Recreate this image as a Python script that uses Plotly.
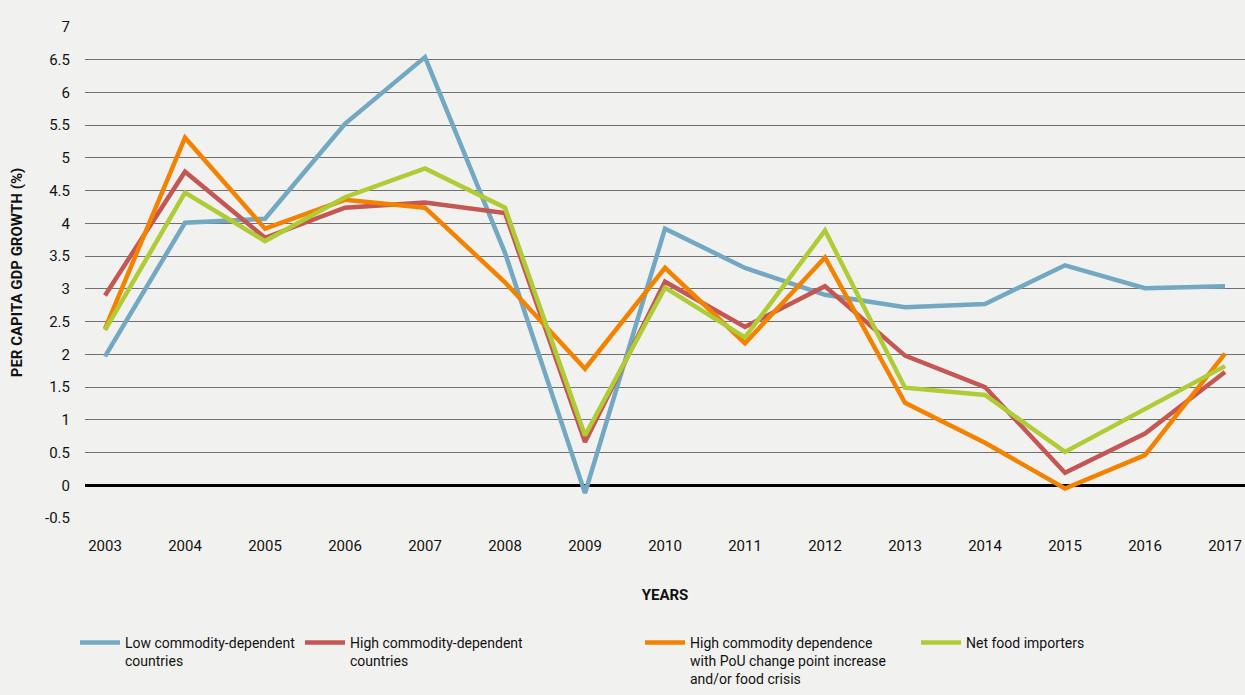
import plotly.graph_objects as go

# Per capita GDP growth (%) by country group, 2003-2017
years = [2003, 2004, 2005, 2006, 2007, 2008, 2009, 2010, 2011, 2012, 2013, 2014, 2015, 2016, 2017]

low_commodity = [1.97, 4.01, 4.07, 5.52, 6.54, 3.55, -0.12, 3.92, 3.32, 2.91, 2.72, 2.77, 3.36, 3.01, 3.04]
high_commodity = [2.90, 4.79, 3.78, 4.24, 4.32, 4.16, 0.66, 3.11, 2.42, 3.04, 1.98, 1.50, 0.19, 0.79, 1.73]
high_commodity_pou = [2.39, 5.31, 3.92, 4.36, 4.24, 3.10, 1.78, 3.32, 2.17, 3.48, 1.26, 0.65, -0.05, 0.46, 2.01]
net_food_importers = [2.37, 4.47, 3.73, 4.40, 4.84, 4.24, 0.76, 3.02, 2.26, 3.89, 1.49, 1.38, 0.51, 1.17, 1.82]

y_ticks = [-0.5, 0, 0.5, 1, 1.5, 2, 2.5, 3, 3.5, 4, 4.5, 5, 5.5, 6, 6.5, 7]

series = [
    ("Low commodity-dependent<br>countries", low_commodity, "#72a8c1", "legend", 125),
    ("High commodity-dependent<br>countries", high_commodity, "#c45753", "legend2", 350),
    ("High commodity dependence<br>with PoU change point increase<br>and/or food crisis",
     high_commodity_pou, "#f38200", "legend3", 690),
    ("Net food importers", net_food_importers, "#afcb35", "legend4", 966),
]

FONT = "Roboto, Arial, sans-serif"
BG = "#f1f1ef"
INK = "#111111"

plot_left, plot_width = 85, 1160
plot_top, plot_height = 27, 491

fig = go.Figure()
for name, values, color, leg, _ in series:
    fig.add_trace(go.Scatter(
        x=years, y=values, name=name, mode="lines",
        line=dict(color=color, width=4.5),
        legend=leg,
    ))


def legend_box(text_x):
    # one legend per series, its label text starting near page x = text_x
    return dict(
        x=(text_x - 50 - plot_left) / plot_width, xanchor="left",
        y=-0.222, yanchor="top",
        orientation="h", valign="top",
        bgcolor="rgba(0,0,0,0)",
        font=dict(family=FONT, size=14, color=INK),
        itemwidth=40,
    )


legends = {s[3]: legend_box(s[4]) for s in series}

fig.update_layout(
    width=1245, height=695,
    paper_bgcolor=BG, plot_bgcolor=BG,
    margin=dict(l=plot_left, r=0, t=plot_top, b=695 - plot_top - plot_height,
                autoexpand=False),
    font=dict(family=FONT, size=15, color=INK),
    showlegend=True,
    **legends,
    xaxis=dict(
        range=[2002.75, 2017.25],
        tickmode="array", tickvals=years, ticktext=[str(y) for y in years],
        showgrid=False, zeroline=False, showline=False,
        ticks="", ticklabelstandoff=17,
        tickfont=dict(family=FONT, size=15, color=INK),
        title=dict(text="<b>YEARS</b>", standoff=35,
                   font=dict(family=FONT, size=15, color=INK)),
    ),
    yaxis=dict(
        range=[-0.5, 7],
        tickmode="array", tickvals=y_ticks, ticktext=[f"{v:g}" for v in y_ticks],
        showgrid=True, gridcolor="#707070", gridwidth=1.3,
        zeroline=True, zerolinecolor="#000000", zerolinewidth=2.6,
        showline=False, ticks="", ticklabelstandoff=14,
        tickfont=dict(family=FONT, size=15, color=INK),
        title=dict(text="<b>PER CAPITA GDP GROWTH (%)</b>", standoff=18,
                   font=dict(family=FONT, size=15, color=INK)),
    ),
)

fig.write_html("out.html")
